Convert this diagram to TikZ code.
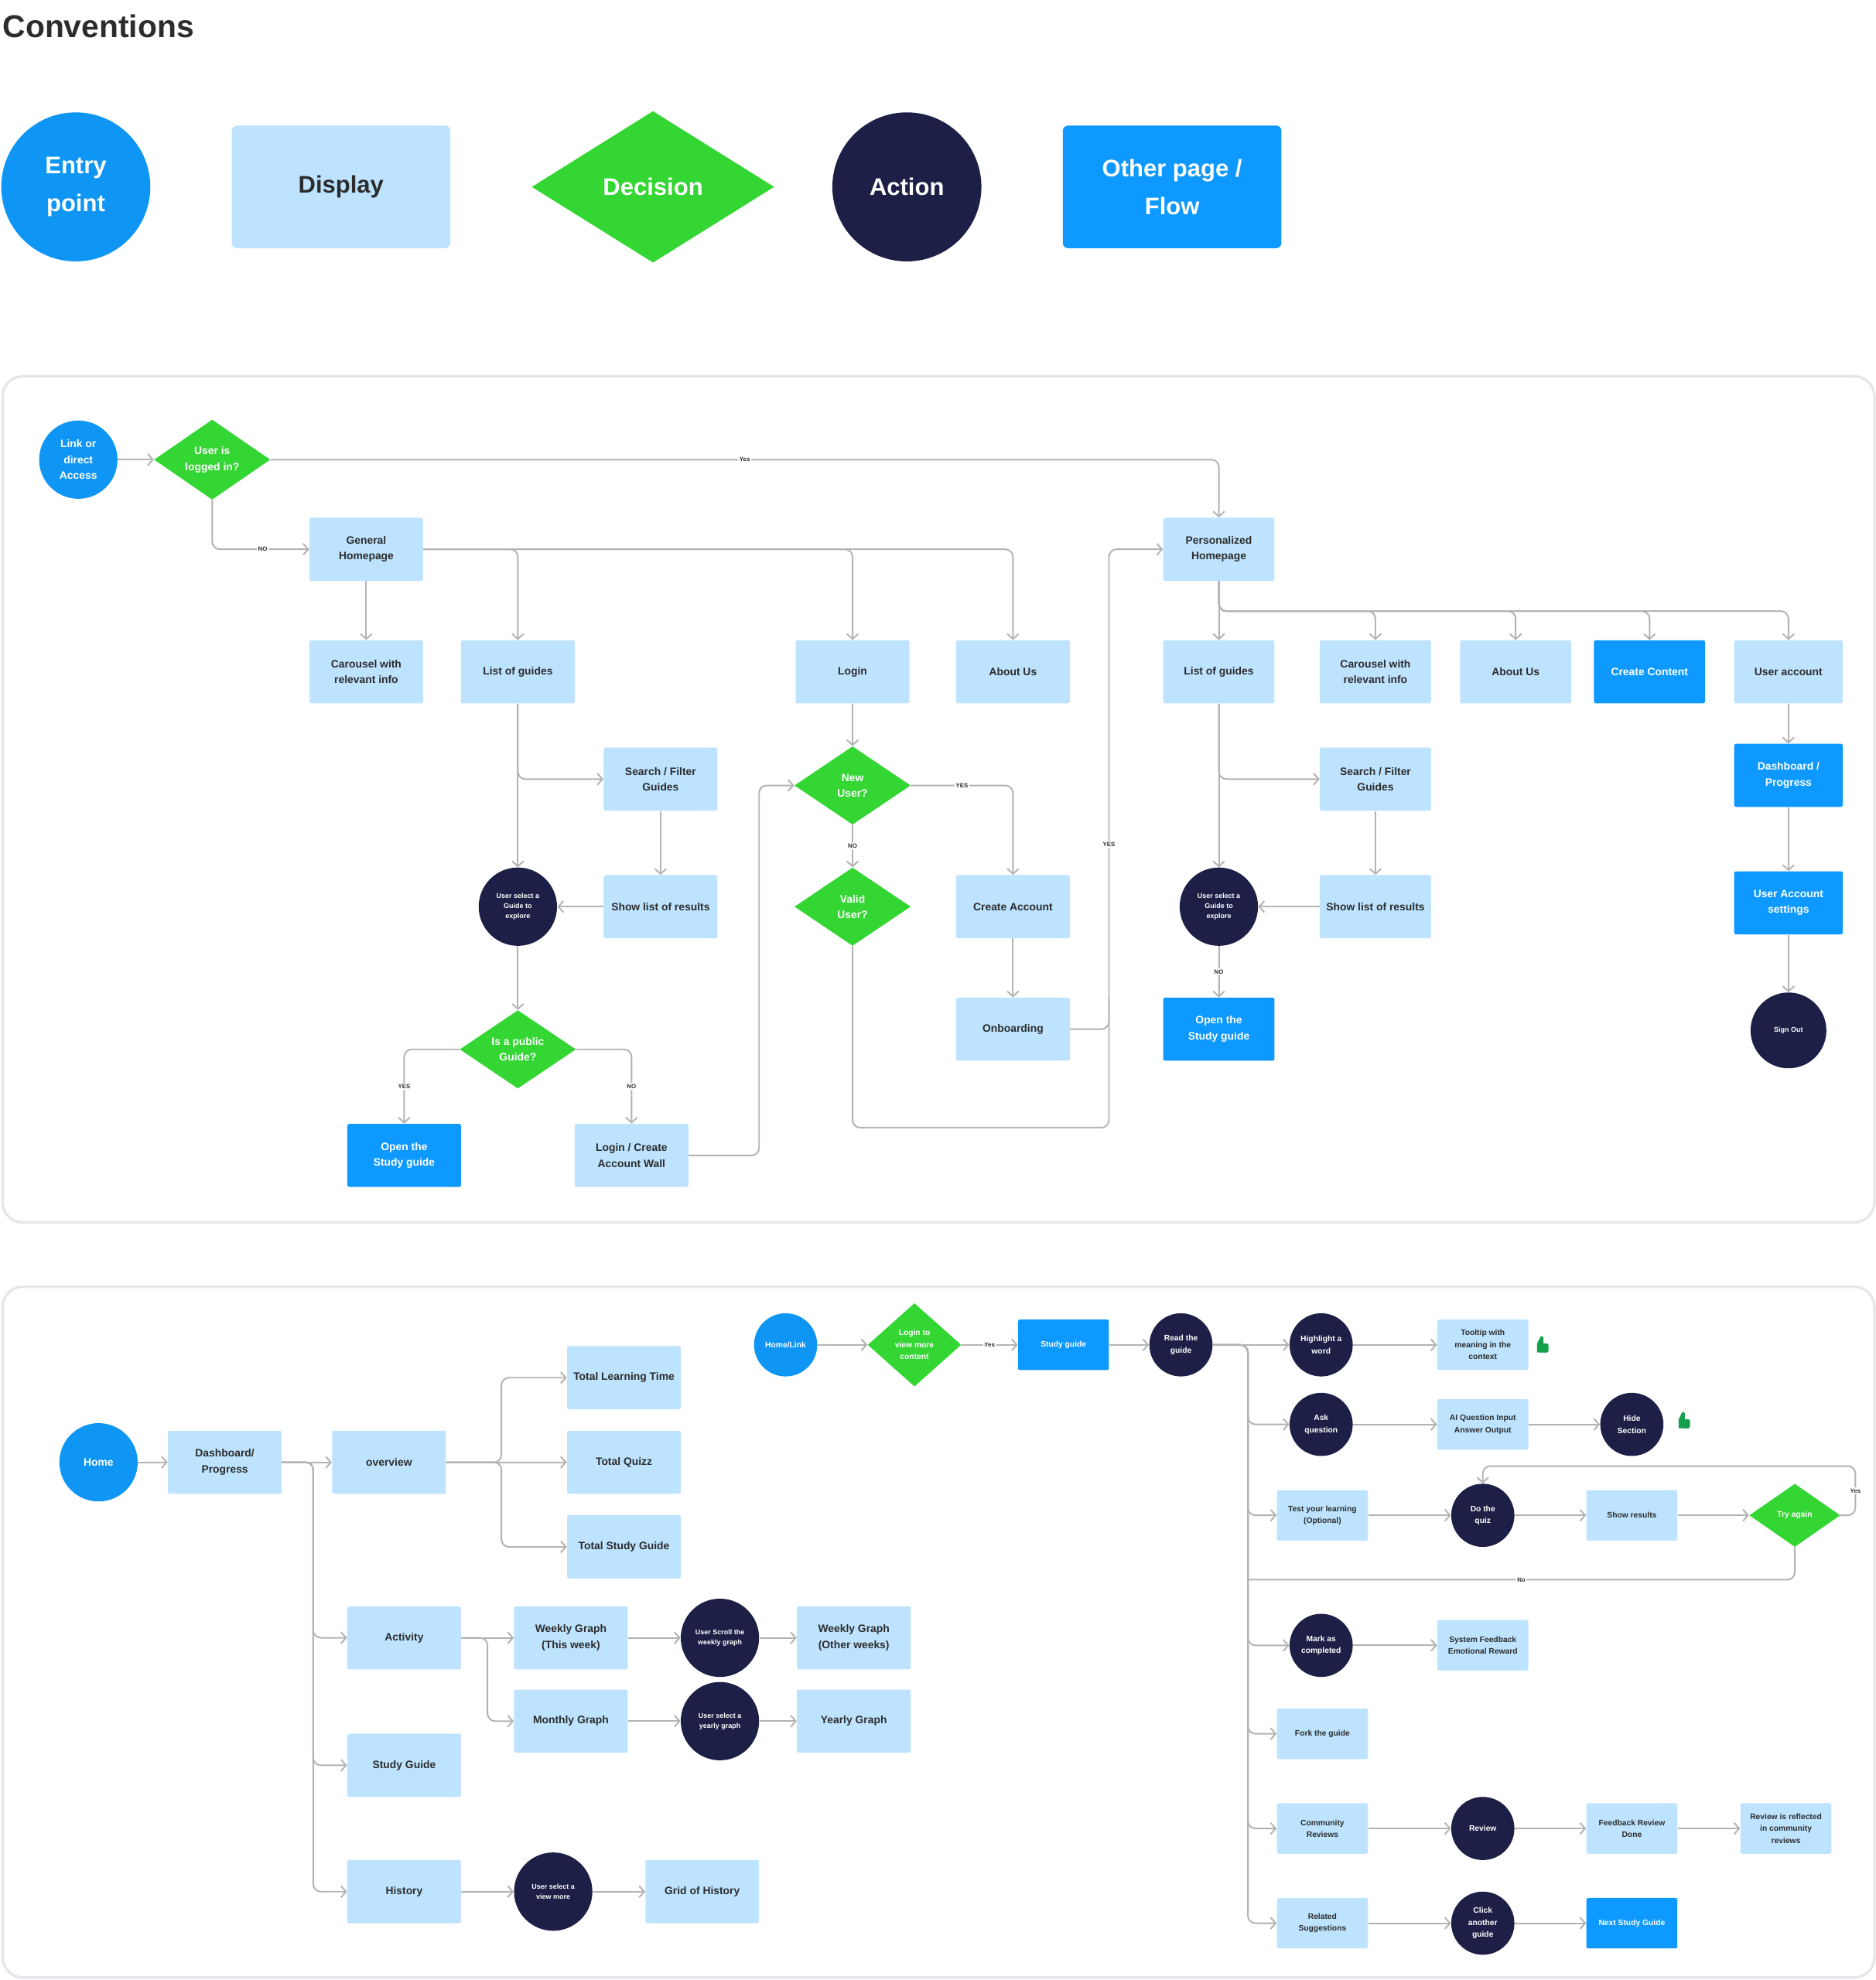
\documentclass[tikz,border=0pt]{standalone}
\usepackage{fontspec}
\setmainfont{Liberation Sans}
\usetikzlibrary{shapes.geometric,arrows.meta}
\definecolor{eb}{HTML}{0F96F5}
\definecolor{lb}{HTML}{BDE3FF}
\definecolor{fb}{HTML}{0D99FF}
\definecolor{gr}{HTML}{33D633}
\definecolor{nv}{HTML}{1E1F46}
\definecolor{tx}{HTML}{2C2C2C}
\definecolor{ln}{HTML}{B3B3B3}
\definecolor{pn}{HTML}{E6E6EA}
\definecolor{th}{HTML}{14A04A}
\newcommand{\fs}[2]{\bfseries\fontsize{#1}{#2}\selectfont}
\tikzset{
 base/.style={align=center,inner sep=1pt},
 disp/.style={base,rectangle,rounded corners=1.5pt,fill=lb,text=tx,minimum width=90pt,minimum height=50pt,font=\fs{8.5}{12.5}},
 flow/.style={disp,fill=fb,text=white},
 dec/.style={base,diamond,fill=gr,text=white,minimum width=92pt,minimum height=62pt,inner sep=0pt,font=\fs{8.5}{12.5}},
 act/.style={base,ellipse,fill=nv,text=white,minimum width=62pt,minimum height=62pt,inner sep=0pt,font=\fs{5.5}{8}},
 ent/.style={base,ellipse,fill=eb,text=white,minimum width=62pt,minimum height=62pt,inner sep=0pt,font=\fs{8.5}{12.5}},
 sd/.style={disp,minimum width=72pt,minimum height=40pt,font=\fs{6.3}{9.5}},
 sf/.style={sd,fill=fb,text=white},
 sa/.style={act,minimum width=50pt,minimum height=50pt,font=\fs{6.3}{9.5}},
 con/.style={draw=ln,line width=1.2pt,rounded corners=6pt},
 arr/.style={con,-{Straight Barb[length=4pt,width=9pt,line width=1.2pt]}},
 lab/.style={fill=white,text=tx,font=\fs{4.8}{6},inner sep=1pt},
 panel/.style={draw=pn,line width=2pt,rounded corners=16pt},
 big/.style={font=\fs{19}{30}},
}
\newcommand{\thumb}[2]{\fill[th] (#1-4,#2-1) rectangle (#1+4,#2+6) (#1-4,#2-1) -- (#1-1,#2-7) -- (#1+1,#2-6) -- (#1+1,#2-1) -- cycle;
 \fill[th,rounded corners=1pt] (#1-2,#2-1) rectangle (#1+5,#2+6);}
\begin{document}
\begin{tikzpicture}[x=1pt,y=-1pt]
\useasboundingbox (0,0) rectangle (1485,1568);
\fill[white] (0,0) rectangle (1485,1568);
% Conventions
\node[anchor=west,text=tx,font=\fs{25}{28},inner sep=0] (title) at (2,21) {Conventions};
\node[ent,minimum width=118pt,minimum height=118pt,big] (c1) at (60,148) {Entry\\point};
\node[disp,minimum width=173pt,minimum height=97pt,rounded corners=4pt,big] (c2) at (270,148) {Display};
\node[dec,minimum width=192pt,minimum height=120pt,big] (c3) at (517,148) {Decision};
\node[act,minimum width=118pt,minimum height=118pt,big] (c4) at (718,148) {Action};
\node[flow,minimum width=173pt,minimum height=97pt,rounded corners=4pt,big] (c5) at (928,148) {Other page /\\Flow};
% Panel 1
\draw[panel] (2,298) rectangle (1484,968);
\node[ent] (link) at (62,364) {Link or\\direct\\Access};
\node[dec] (logged) at (168,364) {User is\\logged in?};
\node[disp] (genhome) at (290,435) {General\\Homepage};
\node[disp] (car1) at (290,532) {Carousel with\\relevant info};
\node[disp] (list1) at (410,532) {List of guides};
\node[disp] (login) at (675,532) {Login};
\node[disp] (about1) at (802,532) {About Us};
\node[disp] (search1) at (523,617) {Search / Filter\\Guides};
\node[disp] (show1) at (523,718) {Show list of results};
\node[act] (usel1) at (410,718) {User select a\\Guide to\\explore};
\node[dec] (public) at (410,831) {Is a public\\Guide?};
\node[flow] (open1) at (320,915) {Open the\\Study guide};
\node[disp] (wall) at (500,915) {Login / Create\\Account Wall};
\node[dec] (newu) at (675,622) {New\\User?};
\node[dec] (valid) at (675,718) {Valid\\User?};
\node[disp] (create) at (802,718) {Create Account};
\node[disp] (onb) at (802,815) {Onboarding};
\node[disp,minimum width=88pt] (pers) at (965,435) {Personalized\\Homepage};
\node[disp,minimum width=88pt] (list2) at (965,532) {List of guides};
\node[disp,minimum width=88pt] (car2) at (1089,532) {Carousel with\\relevant info};
\node[disp,minimum width=88pt] (about2) at (1200,532) {About Us};
\node[flow,minimum width=88pt] (cc) at (1306,532) {Create Content};
\node[disp,minimum width=86pt] (uacc) at (1416,532) {User account};
\node[flow,minimum width=86pt] (dash) at (1416,614) {Dashboard /\\Progress};
\node[flow,minimum width=86pt] (uas) at (1416,715) {User Account\\settings};
\node[act,minimum width=60pt,minimum height=60pt] (sout) at (1416,816) {Sign Out};
\node[disp,minimum width=88pt] (search2) at (1089,617) {Search / Filter\\Guides};
\node[disp,minimum width=88pt] (show2) at (1089,718) {Show list of results};
\node[act] (usel2) at (965,718) {User select a\\Guide to\\explore};
\node[flow,minimum width=88pt] (open2) at (965,815) {Open the\\Study guide};
% edges panel 1
\draw[arr] (link) -- (logged);
\draw[arr] (logged.east) -| node[lab,pos=0.25]{Yes} (pers.north);
\draw[arr] (logged.south) |- node[lab,pos=0.76]{NO} (genhome.west);
\draw[arr] (genhome.east) -| (list1.north);
\draw[arr] (genhome.east) -| (login.north);
\draw[arr] (genhome.east) -| (about1.north);
\draw[arr] (genhome) -- (car1);
\draw[arr] (list1.south) |- (search1.west);
\draw[arr] (list1.south) -- (usel1.north);
\draw[arr] (search1) -- (show1);
\draw[arr] (show1) -- (usel1);
\draw[arr] (usel1) -- (public);
\draw[arr] (public.west) -| node[lab,pos=0.75]{YES} (open1.north);
\draw[arr] (public.east) -| node[lab,pos=0.75]{NO} (wall.north);
\draw[arr] (wall.east) -- (601,915) -- (601,622) -- (newu.west);
\draw[arr] (login) -- (newu);
\draw[arr] (newu.east) -| node[lab,pos=0.25]{YES} (create.north);
\draw[arr] (newu) -- node[lab]{NO} (valid);
\draw[arr] (valid.south) -- (675,893) -- (878,893) -- node[lab,pos=0.49]{YES} (878,435) -- (pers.west);
\draw[con] (onb.east) -- (878,815) -- (878,790);
\draw[arr] (create) -- (onb);
\coordinate (pj) at (965,484);
\draw[arr] (pers) -- (list2);
\draw[arr] (pers.south) -- (pj) -| (car2.north);
\draw[arr] (pers.south) -- (pj) -| (about2.north);
\draw[arr] (pers.south) -- (pj) -| (cc.north);
\draw[arr] (pers.south) -- (pj) -| (uacc.north);
\draw[arr] (list2.south) |- (search2.west);
\draw[arr] (list2.south) -- (usel2.north);
\draw[arr] (search2) -- (show2);
\draw[arr] (show2) -- (usel2);
\draw[arr] (usel2) -- node[lab]{NO} (open2);
\draw[arr] (uacc) -- (dash);
\draw[arr] (dash) -- (uas);
\draw[arr] (uas) -- (sout);
% Panel 2
\draw[panel] (2,1019) rectangle (1484,1566);
\node[ent] (home) at (78,1158) {Home};
\node[disp] (dash2) at (178,1158) {Dashboard/\\Progress};
\node[disp] (ov) at (308,1158) {overview};
\node[disp] (tlt) at (494,1091) {Total Learning Time};
\node[disp] (tq) at (494,1158) {Total Quizz};
\node[disp] (tsg) at (494,1225) {Total Study Guide};
\node[disp] (actv) at (320,1297) {Activity};
\node[disp] (wg) at (452,1297) {Weekly Graph\\(This week)};
\node[disp] (mg) at (452,1363) {Monthly Graph};
\node[act] (usc) at (570,1297) {User Scroll the\\weekly graph};
\node[act] (usy) at (570,1363) {User select a\\yearly graph};
\node[disp] (wgo) at (676,1297) {Weekly Graph\\(Other weeks)};
\node[disp] (yg) at (676,1363) {Yearly Graph};
\node[disp] (sg2) at (320,1398) {Study Guide};
\node[disp] (hist) at (320,1498) {History};
\node[act] (usv) at (438,1498) {User select a\\view more};
\node[disp] (grid) at (556,1498) {Grid of History};
\draw[arr] (home) -- (dash2);
\draw[arr] (dash2) -- (ov);
\coordinate (dj) at (248,1158);
\draw[arr] (dash2.east) -- (dj) |- (actv.west);
\draw[arr] (dash2.east) -- (dj) |- (sg2.west);
\draw[arr] (dash2.east) -- (dj) |- (hist.west);
\coordinate (oj) at (397,1158);
\draw[arr] (ov.east) -- (oj) |- (tlt.west);
\draw[arr] (ov) -- (tq);
\draw[arr] (ov.east) -- (oj) |- (tsg.west);
\draw[arr] (actv) -- (wg);
\draw[arr] (actv.east) -- (386,1297) |- (mg.west);
\draw[arr] (wg) -- (usc); \draw[arr] (usc) -- (wgo);
\draw[arr] (mg) -- (usy); \draw[arr] (usy) -- (yg);
\draw[arr] (hist) -- (usv); \draw[arr] (usv) -- (grid);
% right part
\node[ent,minimum width=50pt,minimum height=50pt,font=\fs{6.3}{9.5}] (hl0) at (622,1065) {Home/Link};
\node[dec,minimum width=74pt,minimum height=66pt,font=\fs{6.3}{9.5}] (lv) at (724,1065) {Login to\\view more\\content};
\node[sf] (sgd) at (842,1065) {Study guide};
\node[sa] (read) at (935,1065) {Read the\\guide};
\node[sa] (hlw) at (1046,1065) {Highlight a\\word};
\node[sd] (tool) at (1174,1065) {Tooltip with\\meaning in the\\context};
\node[sa] (ask) at (1046,1128) {Ask\\question};
\node[sd] (aiq) at (1174,1128) {AI Question Input\\Answer Output};
\node[sa] (hide) at (1292,1128) {Hide\\Section};
\node[sd] (test) at (1047,1200) {Test your learning\\(Optional)};
\node[sa] (quiz) at (1174,1200) {Do the\\quiz};
\node[sd] (showr) at (1292,1200) {Show results};
\node[dec,minimum width=72pt,minimum height=50pt,font=\fs{6.3}{9.5}] (try) at (1421,1200) {Try again};
\node[sa] (mark) at (1046,1303) {Mark as\\completed};
\node[sd] (sysf) at (1174,1303) {System Feedback\\Emotional Reward};
\node[sd] (fork) at (1047,1373) {Fork the guide};
\node[sd] (comm) at (1047,1448) {Community\\Reviews};
\node[sa] (rev) at (1174,1448) {Review};
\node[sd] (frd) at (1292,1448) {Feedback Review\\Done};
\node[sd] (rir) at (1414,1448) {Review is reflected\\in community\\reviews};
\node[sd] (rel) at (1047,1523) {Related\\Suggestions};
\node[sa] (click) at (1174,1523) {Click\\another\\guide};
\node[sf] (next) at (1292,1523) {Next Study Guide};
\thumb{1221}{1065}
\thumb{1333}{1125}
\draw[arr] (hl0) -- (lv);
\draw[arr] (lv) -- node[lab]{Yes} (sgd);
\draw[arr] (sgd) -- (read);
\coordinate (rj) at (988,1065);
\draw[arr] (read) -- (hlw);
\draw[con] (read.east) -- (rj) -- (988,1515);
\draw[arr] (read.east) -- (rj) |- (ask.west);
\draw[arr] (read.east) -- (rj) |- (test.west);
\draw[arr] (read.east) -- (rj) |- (mark.west);
\draw[arr] (read.east) -- (rj) |- (fork.west);
\draw[arr] (read.east) -- (rj) |- (comm.west);
\draw[arr] (read.east) -- (rj) |- (rel.west);
\draw[arr] (hlw) -- (tool);
\draw[arr] (ask) -- (aiq); \draw[arr] (aiq) -- (hide);
\draw[arr] (test) -- (quiz); \draw[arr] (quiz) -- (showr); \draw[arr] (showr) -- (try);
\draw[arr] (try.east) -- (1469,1200) -- node[lab,pos=0.5]{Yes} (1469,1161) -| (quiz.north);
\draw[con] (try.south) |- node[lab,pos=0.75]{No} (988,1251);
\draw[arr] (mark) -- (sysf);
\draw[arr] (comm) -- (rev); \draw[arr] (rev) -- (frd); \draw[arr] (frd) -- (rir);
\draw[arr] (rel) -- (click); \draw[arr] (click) -- (next);
\end{tikzpicture}
\end{document}
